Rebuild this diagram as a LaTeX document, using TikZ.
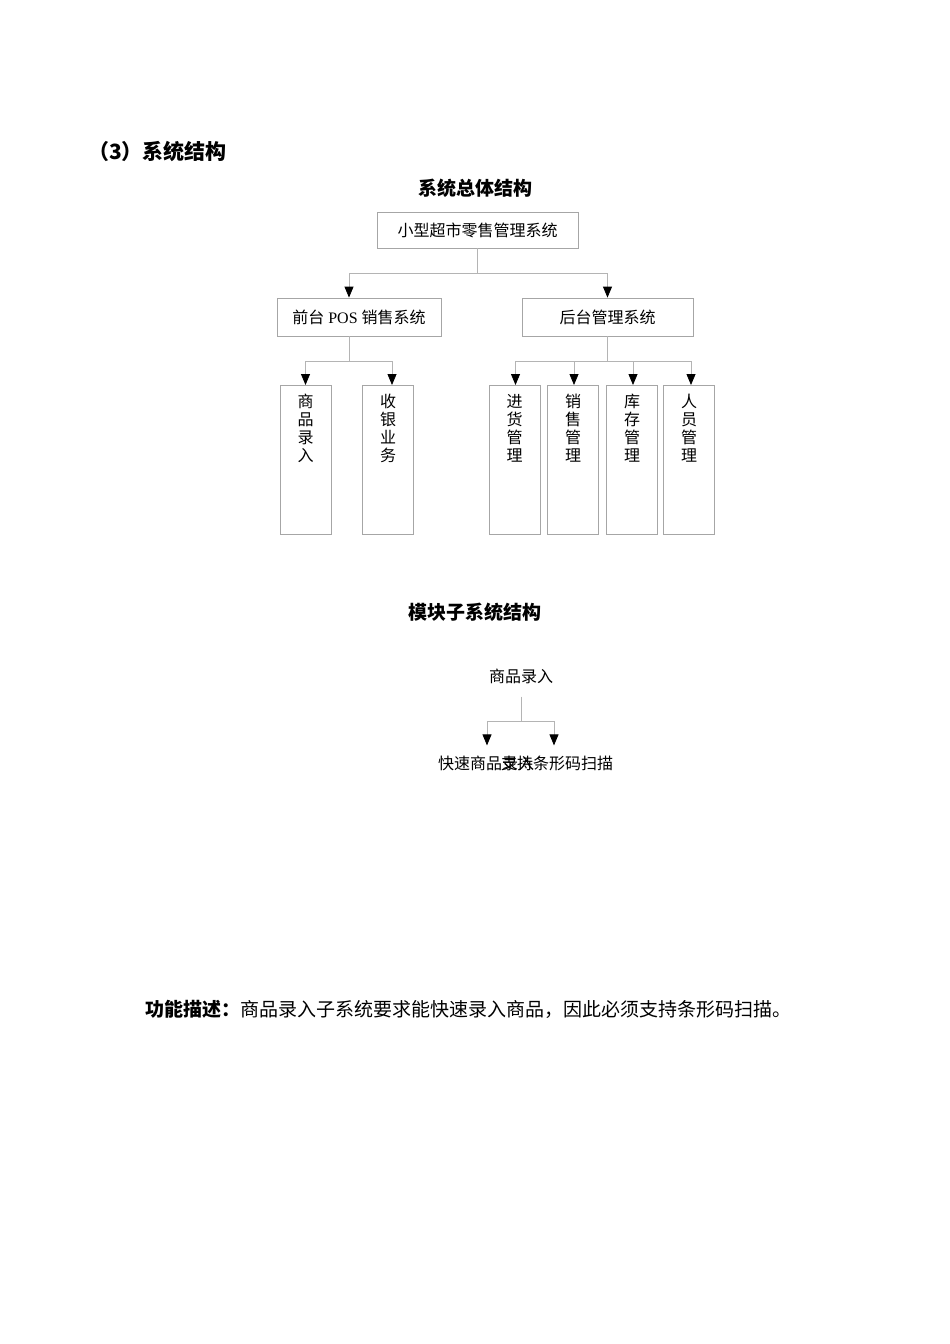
\documentclass[tikz,border=0pt]{standalone}
\usepackage{fontspec}
\setmainfont{Noto Sans CJK SC}
\newfontfamily\serifpos{Liberation Serif}
\usetikzlibrary{arrows.meta, positioning}
\definecolor{boxgray}{HTML}{A6A6A6}
\definecolor{linegray}{HTML}{B4B4B4}
\newcommand{\vtext}[1]{\parbox[t][149pt][t]{50pt}{\centering\vspace*{9pt}#1}}

\begin{document}
\begin{tikzpicture}[x=1pt, y=-1pt,
  box/.style={draw=boxgray, line width=0.8pt, inner sep=0pt, font=\fontsize{16}{18}\selectfont},
  link/.style={draw=linegray, line width=0.8pt},
  arrowed/.style={-{Triangle[length=11pt, width=9pt, color=black]}},
  modtext/.style={inner sep=0pt, font=\fontsize{16}{18}\selectfont},
  heading/.style={inner sep=0pt, font=\bfseries\fontsize{19}{23}\selectfont}]
\fill[white] (0,0) rectangle (950,1344);

\node[heading, font=\bfseries\fontsize{21}{25}\selectfont, anchor=west] (sec) at (88,151) {（3）系统结构};
\node[heading] (title) at (475,188) {系统总体结构};

\node[box, minimum width=201pt, minimum height=36pt] (top) at (477.5,230) {小型超市零售管理系统};
\node[box, minimum width=164pt, minimum height=38pt] (fore) at (359,317) {前台{\serifpos\ POS }销售系统};
\node[box, minimum width=171pt, minimum height=38pt] (back) at (607.5,317) {后台管理系统};

\foreach \x/\nm/\txt in {305.5/entry/商\\品\\录\\入, 388/cash/收\\银\\业\\务, 514.5/stock/进\\货\\管\\理,
    573/sales/销\\售\\管\\理, 632/store/库\\存\\管\\理, 689/staff/人\\员\\管\\理} {
    \node[box, anchor=north, minimum width=51pt] (\nm) at (\x,385) {\vtext{\txt}};
}

\draw[link] (top.south) -- ++(0,25) coordinate (tj);
\draw[link, arrowed] (tj) -| ([xshift=-10pt]fore.north);
\draw[link, arrowed] (tj) -| (back.north);

\draw[link] ([xshift=-10pt]fore.south) -- ++(0,25) coordinate (fj);
\foreach \nm/\dx in {entry/0, cash/4}
    \draw[link, arrowed] (fj) -| ([xshift=\dx pt]\nm.north);
\draw[link] (back.south) -- ++(0,25) coordinate (bj);
\foreach \nm/\dx in {stock/1, sales/1, store/1, staff/2}
    \draw[link, arrowed] (bj) -| ([xshift=\dx pt]\nm.north);

\node[heading] (modtitle) at (475,612) {模块子系统结构};
\node[modtext] (mod) at (521,676) {商品录入};
\node[modtext] (quick) at (486,763) {快速商品录入};
\node[modtext] (scan) at (557,763) {支持条形码扫描};
\draw[link] ([yshift=-13pt]mod.south) -- ++(0,25) coordinate (mj);
\draw[link, arrowed] (mj) -| ([xshift=1pt, yshift=10pt]quick.north);
\draw[link, arrowed] (mj) -| ([xshift=-3pt, yshift=10pt]scan.north);

\node[anchor=west, inner sep=0pt, font=\fontsize{19}{23}\selectfont] (desc) at (145,1009)
    {\textbf{功能描述：}商品录入子系统要求能快速录入商品，因此必须支持条形码扫描。};
\end{tikzpicture}
\end{document}
